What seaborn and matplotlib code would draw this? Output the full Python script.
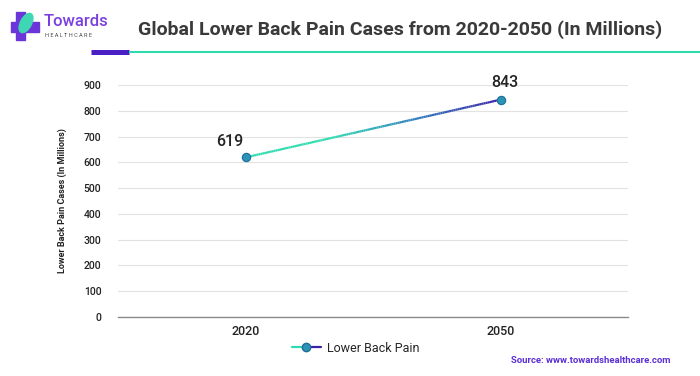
import numpy as np
import pandas as pd
import matplotlib
matplotlib.use("Agg")
import matplotlib.pyplot as plt
import seaborn as sns
from matplotlib.collections import LineCollection
from matplotlib.colors import LinearSegmentedColormap
from matplotlib.legend_handler import HandlerBase
from matplotlib.lines import Line2D
from matplotlib.patches import Rectangle, Ellipse
from matplotlib.transforms import IdentityTransform

# ------------------ DATOS ------------------
years = ["2020", "2050"]
cases = [619, 843]
serie = "Lower Back Pain"
y_ticks = [0, 100, 200, 300, 400, 500, 600, 700, 800, 900]

df = pd.DataFrame({"Year": years, "Cases": cases, "Serie": serie})

# ------------------ ESTILO ------------------
teal = "#2fdcb0"
indigo = "#3a22a8"
marker_fc = "#2b93b8"
marker_ec = "#1f6e96"
purple = "#5b2fd6"
cmap = LinearSegmentedColormap.from_list("grad", [teal, teal, "#2f7fbf", indigo])
label_offsets = [(-11, 6), (3, 7)]

sns.set_theme(style="white")
plt.rcParams["font.family"] = ["Roboto", "DejaVu Sans"]

fig = plt.figure(figsize=(7, 3.76), dpi=100)
ax = fig.add_axes([0.1686, 0.157, 0.7286, 0.617])

# marcadores desde seaborn (linea propia con degradado abajo)
sns.lineplot(data=df, x="Year", y="Cases", ax=ax, sort=False, linewidth=0,
             marker="o", markersize=6, markerfacecolor=marker_fc,
             markeredgecolor=marker_ec, markeredgewidth=0.8, legend=False, zorder=4)

# linea con degradado entre los dos puntos
xs = np.array([0.0, 1.0])
ys = np.array(cases, dtype=float)
t = np.linspace(0, 1, 120)
px = xs[0] + (xs[1] - xs[0]) * t
py = ys[0] + (ys[1] - ys[0]) * t
pts = np.column_stack([px, py]).reshape(-1, 1, 2)
segs = np.concatenate([pts[:-1], pts[1:]], axis=1)
lc = LineCollection(segs, cmap=cmap, linewidth=1.6, zorder=3)
lc.set_array(t[:-1])
ax.add_collection(lc)

# etiquetas de valores
for i, v in enumerate(cases):
    ax.annotate(str(v), (i, v), xytext=label_offsets[i], textcoords="offset points",
                fontsize=11.5, fontweight="medium", color="#222222", ha="center", va="bottom")

ax.set_xlim(-0.5, 1.5)
ax.set_ylim(0, 900)
ax.set_yticks(y_ticks)
ax.yaxis.grid(True, color="#e2e2e2", linewidth=0.8)
ax.set_axisbelow(True)
for s in ["top", "right", "left"]:
    ax.spines[s].set_visible(False)
ax.spines["bottom"].set_color("#8a8a8a")
ax.spines["bottom"].set_linewidth(1.0)
ax.tick_params(axis="y", length=2, color="#dddddd", labelsize=7.5, pad=10, labelcolor="#222222")
ax.tick_params(axis="x", length=0, labelsize=9, pad=6, labelcolor="#222222")
for lab in ax.get_yticklabels():
    lab.set_fontweight("medium")
for lab in ax.get_xticklabels():
    lab.set_fontweight("medium")
ax.set_xlabel("")
ax.set_ylabel("Lower Back Pain Cases (In Millions)", fontsize=6.5, fontweight="bold",
              color="#222222", labelpad=12)


# leyenda con degradado
class GradHandler(HandlerBase):
    def create_artists(self, legend, orig_handle, xdescent, ydescent, width, height, fontsize, trans):
        y = height / 2 - ydescent
        l1 = Line2D([-xdescent, width / 2], [y, y], color=teal, linewidth=1.6, transform=trans)
        l2 = Line2D([width / 2, width], [y, y], color=indigo, linewidth=1.6, transform=trans)
        m = Line2D([width / 2], [y], marker="o", markersize=6, markerfacecolor=marker_fc,
                   markeredgecolor=marker_ec, linestyle="", transform=trans)
        return [l1, l2, m]


handle = Line2D([], [])
fig.legend([handle], [serie], handler_map={Line2D: GradHandler()}, loc="center",
           bbox_to_anchor=(0.508, 0.074), frameon=False, fontsize=9,
           handlelength=2.3, handletextpad=0.5)

# ------------------ ENCABEZADO ------------------
fig.text(0.572, 0.922, "Global Lower Back Pain Cases from 2020-2050 (In Millions)",
         ha="center", va="center", fontsize=14, fontweight="bold", color="#3a3a3a")

# logo aproximado (en pixeles)
H = 376
fig.patches.append(Rectangle((11, H - 32), 28, 10, transform=IdentityTransform(),
                             color="#6a35d9", zorder=1))
fig.patches.append(Rectangle((16, H - 40), 9, 28, transform=IdentityTransform(),
                             color="#6a35d9", zorder=1))
fig.patches.append(Ellipse((26, H - 23), 11, 21, angle=-28, transform=IdentityTransform(),
                           color="#3fd6b4", zorder=2))
fig.text(0.062, 0.944, "Towards", fontsize=12, fontweight="medium", color="#7a3fe0",
         ha="left", va="center")
fig.text(0.064, 0.905, "H E A L T H C A R E", fontsize=4.0, color="#444444",
         ha="left", va="center")

# lineas bajo el titulo
fig.add_artist(Line2D([0.13, 0.184], [0.862, 0.862], transform=fig.transFigure,
                      color="#4a1fc4", linewidth=3.6, solid_capstyle="butt"))
fig.add_artist(Line2D([0.184, 1.0], [0.862, 0.862], transform=fig.transFigure,
                      color="#2fdcb0", linewidth=1.5, solid_capstyle="butt"))

# fuente
fig.text(0.958, 0.04, "Source: www.towardshealthcare.com", fontsize=6.8, fontweight="bold",
         color=purple, ha="right", va="center")

fig.savefig("out.png", dpi=100)
plt.close(fig)
